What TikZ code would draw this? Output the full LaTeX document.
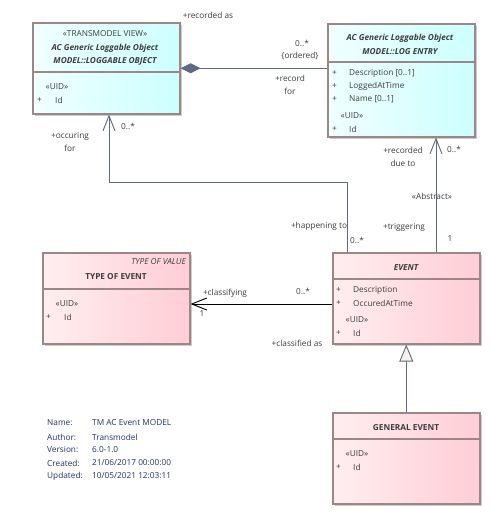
\documentclass[tikz,border=0pt]{standalone}
\usepackage{fontspec}
\setmainfont{Open Sans}
\usetikzlibrary{arrows.meta}
\usetikzlibrary{shadows}
\definecolor{edgegray}{HTML}{5F6A80}
\definecolor{boxline}{HTML}{9C8686}
\definecolor{txtgray}{HTML}{3C3C3C}
\definecolor{metablue}{HTML}{22306A}
\definecolor{cyanL}{HTML}{F0FFFF}
\definecolor{cyanR}{HTML}{CCFFFF}
\definecolor{pinkL}{HTML}{FFEEF0}
\definecolor{pinkR}{HTML}{FFCDD5}
\definecolor{trifill}{HTML}{F6F1EC}
\tikzstyle{cls}=[rectangle, draw=boxline, line width=1.6bp, anchor=north west, inner sep=0pt, minimum width=147bp, drop shadow={shadow xshift=2.5bp, shadow yshift=-2.5bp, fill=black!20, opacity=1}]
\tikzstyle{cyancls}=[cls, left color=cyanL, right color=cyanR]
\tikzstyle{pinkcls}=[cls, left color=pinkL, right color=pinkR]
\tikzstyle{divider}=[draw=boxline, line width=1.6bp]
\tikzstyle{txt}=[inner sep=0pt, font=\fontsize{8.3}{9}\selectfont, text=txtgray]
\tikzstyle{head}=[txt, font=\fontsize{8.3}{9}\selectfont\bfseries\itshape]
\tikzstyle{attr}=[txt, anchor=west]
\tikzstyle{meta}=[txt, anchor=west, text=metablue]
\tikzstyle{assoc}=[draw=edgegray, line width=0.9bp]
\tikzstyle{navarrow}=[assoc, -{Straight Barb[length=15bp, width=12bp]}]
\begin{document}
\begin{tikzpicture}[x=1bp, y=-1bp]
    \fill[white] (0,0) rectangle (490,516);
    \useasboundingbox (0,0) rectangle (490,516);
    % classes
    \node[cyancls, minimum height=91bp] (loggable) at (32,22) {};
    \node[cyancls, minimum height=113bp] (logentry) at (327,23) {};
    \node[pinkcls, minimum height=91bp] (typeevent) at (42,252) {};
    \node[pinkcls, minimum height=91bp] (event) at (332,252) {};
    \node[pinkcls, minimum height=91bp] (genevent) at (332,412) {};
    \coordinate (dA) at (0,72);
    \coordinate (dB) at (0,62);
    \coordinate (dC) at (0,289);
    \coordinate (dD) at (0,279);
    \coordinate (dE) at (0,439);
    \foreach \cls/\cut in {loggable/dA, logentry/dB, typeevent/dC, event/dD, genevent/dE}
      \draw[divider] (\cls.west |- \cut) -- (\cls.east |- \cut);
    % LOGGABLE OBJECT
    \node[txt] (lgst) at (105,34) {«TRANSMODEL VIEW»};
    \node[head] (lgn1) at (105,48) {AC Generic Loggable Object};
    \node[head] (lgn2) at (105,61) {MODEL::LOGGABLE OBJECT};
    \node[txt] (lguid) at (57,87) {«UID»};
    \node[attr] (lgp) at (37,100) {+};
    \node[attr] (lgid) at (55,100) {Id};
    % LOG ENTRY
    \node[head] (len1) at (400,38) {AC Generic Loggable Object};
    \node[head] (len2) at (400,52) {MODEL::LOG ENTRY};
    \foreach \y/\t in {73/Description [0..1], 86/LoggedAtTime, 99/Name [0..1]}{
      \node[attr] at (332,\y) {+};
      \node[attr] at (349,\y) {\t};
    }
    \node[txt] (leuid) at (352,116) {«UID»};
    \node[attr] (lep) at (332,129) {+};
    \node[attr] (leid) at (349,129) {Id};
    % TYPE OF EVENT
    \node[txt, font=\fontsize{8.3}{9}\selectfont\itshape, anchor=east] (tevst) at (186,262) {TYPE OF VALUE};
    \node[txt, font=\fontsize{8.3}{9}\selectfont\bfseries] (tevn) at (116,277) {TYPE OF EVENT};
    \node[txt] (tevuid) at (67,304) {«UID»};
    \node[attr] (tevp) at (46,317) {+};
    \node[attr] (tevid) at (64,317) {Id};
    % EVENT
    \node[head] (evn) at (406,268) {EVENT};
    \foreach \y/\t in {290/Description, 303/OccuredAtTime}{
      \node[attr] at (336,\y) {+};
      \node[attr] at (353,\y) {\t};
    }
    \node[txt] (evuid) at (357,320) {«UID»};
    \node[attr] (evp) at (336,333) {+};
    \node[attr] (evid) at (353,333) {Id};
    % GENERAL EVENT
    \node[txt, font=\fontsize{8.3}{9}\selectfont\bfseries] (gen) at (406,428) {GENERAL EVENT};
    \node[txt] (genuid) at (357,454) {«UID»};
    \node[attr] (genp) at (336,467) {+};
    \node[attr] (genid) at (353,467) {Id};
    % connectors
    \coordinate (kneeA) at (109,182);
    \coordinate (kneeB) at (347,182);
    \coordinate (trig) at (436,0);
    \coordinate (clsf) at (0,304);
    \draw[assoc, {Diamond[length=20bp, width=10bp]}-] (loggable.east) -- (loggable.east -| logentry.west);
    \draw[navarrow] (event.north -| kneeB) -- (kneeB) -- (kneeA) -- (loggable.south -| kneeA);
    \draw[navarrow] (event.north -| trig) -- (logentry.south -| trig);
    \draw[navarrow, draw=black] (event.west |- clsf) -- (typeevent.east |- clsf);
    \draw[assoc, -{Triangle[length=17bp, width=14bp, fill=trifill]}] (genevent.north) -- (event.south);
    % roles
    \node[txt] (r1) at (208,15) {+recorded as};
    \node[txt] (r2) at (302,43) {0..*};
    \node[txt] (r3) at (300,56) {\{ordered\}};
    \node[txt] (r4) at (290,78) {+record};
    \node[txt] (r5) at (290,91) {for};
    \node[txt] (r6) at (70,136) {+occuring};
    \node[txt] (r7) at (70,148) {for};
    \node[txt] (r8) at (128,126) {0..*};
    \node[txt] (r9) at (403,150) {+recorded};
    \node[txt] (r10) at (403,163) {due to};
    \node[txt] (r11) at (454,149) {0..*};
    \node[txt] (r12) at (432,196) {«Abstract»};
    \node[txt] (r13) at (319,226) {+happening to};
    \node[txt] (r14) at (357,240) {0..*};
    \node[txt] (r15) at (404,227) {+triggering};
    \node[txt] (r16) at (450,239) {1};
    \node[txt] (r17) at (303,291) {0..*};
    \node[txt] (r18) at (225,293) {+classifying};
    \node[txt] (r19) at (202,314) {1};
    \node[txt] (r20) at (297,343) {+classified as};
    % model info
    \foreach \y/\k/\v in {423/Name:/TM AC Event MODEL, 437/Author:/Transmodel, 450/Version:/6.0-1.0, 463/Created:/{21/06/2017 00:00:00}, 476/Updated:/{10/05/2021 12:03:11}}{
      \node[meta] at (47,\y) {\k};
      \node[meta] at (92,\y) {\v};
    }
\end{tikzpicture}
\end{document}
